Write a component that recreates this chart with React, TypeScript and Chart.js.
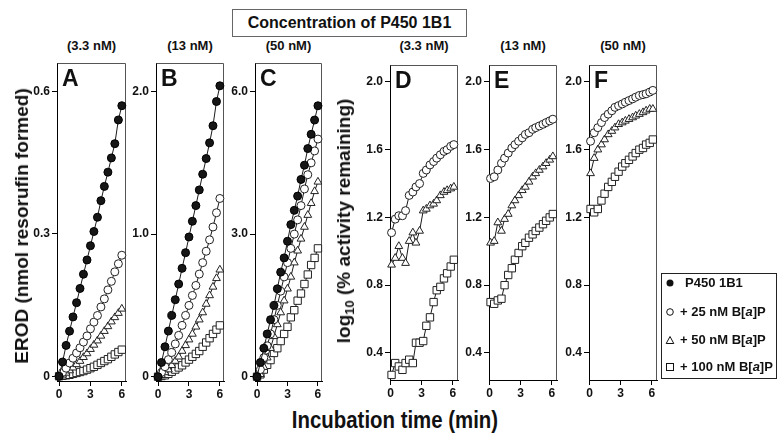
import React, { useEffect, useRef } from "react";
import { Chart, registerables } from "chart.js";
Chart.register(...registerables);

// ---------- data ----------
const TIME_ABS = [0, 0.33, 0.67, 1, 1.33, 1.67, 2, 2.33, 2.67, 3, 3.33, 3.67, 4, 4.33, 4.67, 5, 5.33, 5.67, 6];
const TIME_LOG = [0.1, 0.45, 0.8, 1.15, 1.45, 1.8, 2.15, 2.45, 2.8, 3.15, 3.45, 3.8, 4.15, 4.45, 4.8, 5.15, 5.45, 5.8, 6.1];

const X_TICKS = [0, 3, 6];
const Y_TICKS_A = [0, 0.3, 0.6];
const Y_TICKS_B = [0, 1, 2];
const Y_TICKS_C = [0, 3, 6];
const Y_TICKS_LOG = [0.4, 0.8, 1.2, 1.6, 2.0];

const PANEL_LETTERS = ["A", "B", "C", "D", "E", "F"];
const CONC_LABELS = ["(3.3 nM)", "(13 nM)", "(50 nM)", "(3.3 nM)", "(13 nM)", "(50 nM)"];
const LEGEND_LABELS = ["P450 1B1", "+ 25 nM B[a]P", "+ 50 nM B[a]P", "+ 100 nM B[a]P"];

// Panel A (3.3 nM) EROD
const A_P450 = [0, 0.03, 0.065, 0.095, 0.125, 0.155, 0.185, 0.215, 0.245, 0.275, 0.305, 0.335, 0.37, 0.4, 0.43, 0.46, 0.49, 0.54, 0.57];
const A_BAP25 = [0, 0.008, 0.017, 0.028, 0.038, 0.049, 0.06, 0.072, 0.085, 0.1, 0.114, 0.128, 0.146, 0.163, 0.182, 0.2, 0.22, 0.237, 0.255];
const A_BAP50 = [0, 0.003, 0.007, 0.012, 0.018, 0.025, 0.032, 0.04, 0.048, 0.057, 0.066, 0.075, 0.085, 0.095, 0.105, 0.115, 0.124, 0.133, 0.142];
const A_BAP100 = [0, 0.001, 0.002, 0.003, 0.005, 0.007, 0.009, 0.011, 0.014, 0.017, 0.02, 0.024, 0.028, 0.032, 0.036, 0.041, 0.046, 0.051, 0.056];

// Panel B (13 nM) EROD
const B_P450 = [0, 0.1, 0.21, 0.32, 0.43, 0.54, 0.65, 0.76, 0.87, 0.98, 1.09, 1.2, 1.31, 1.42, 1.53, 1.64, 1.76, 1.93, 2.04];
const B_BAP25 = [0, 0.03, 0.07, 0.12, 0.17, 0.23, 0.29, 0.36, 0.43, 0.5, 0.57, 0.64, 0.72, 0.8, 0.88, 0.96, 1.05, 1.15, 1.25];
const B_BAP50 = [0, 0.01, 0.03, 0.05, 0.08, 0.11, 0.14, 0.18, 0.22, 0.26, 0.3, 0.35, 0.4, 0.45, 0.51, 0.57, 0.63, 0.69, 0.75];
const B_BAP100 = [0, 0.005, 0.01, 0.02, 0.035, 0.05, 0.065, 0.08, 0.1, 0.12, 0.14, 0.16, 0.18, 0.21, 0.24, 0.27, 0.3, 0.33, 0.36];

// Panel C (50 nM) EROD
const C_P450 = [0, 0.3, 0.6, 0.9, 1.2, 1.5, 1.85, 2.2, 2.5, 2.85, 3.2, 3.5, 3.8, 4.15, 4.45, 4.8, 5.1, 5.4, 5.7];
const C_BAP25 = [0, 0.15, 0.4, 0.65, 0.9, 1.2, 1.5, 1.8, 2.1, 2.4, 2.7, 3.0, 3.3, 3.6, 3.95, 4.25, 4.5, 4.75, 5.0];
const C_BAP50 = [0, 0.05, 0.2, 0.4, 0.6, 0.85, 1.1, 1.35, 1.6, 1.85, 2.1, 2.4, 2.65, 2.9, 3.15, 3.4, 3.65, 3.9, 4.1];
const C_BAP100 = [0, 0.05, 0.15, 0.25, 0.35, 0.5, 0.6, 0.75, 0.9, 1.05, 1.25, 1.4, 1.6, 1.75, 1.95, 2.15, 2.35, 2.5, 2.7];

// Panel D (3.3 nM) log10 % activity remaining
const D_BAP25 = [1.11, 1.19, 1.21, 1.21, 1.24, 1.33, 1.35, 1.38, 1.4, 1.46, 1.48, 1.51, 1.53, 1.55, 1.57, 1.59, 1.6, 1.62, 1.63];
const D_BAP50 = [0.92, 0.96, 1.03, 0.96, 0.93, 1.06, 1.11, 1.05, 1.12, 1.24, 1.25, 1.27, 1.28, 1.3, 1.33, 1.35, 1.36, 1.37, 1.38];
const D_BAP100 = [0.27, 0.34, 0.32, 0.3, 0.34, 0.36, 0.34, 0.46, 0.46, 0.47, 0.56, 0.61, 0.7, 0.77, 0.79, 0.84, 0.87, 0.91, 0.95];

// Panel E (13 nM)
const E_BAP25 = [1.43, 1.44, 1.48, 1.52, 1.55, 1.58, 1.61, 1.63, 1.65, 1.67, 1.69, 1.7, 1.72, 1.73, 1.74, 1.75, 1.76, 1.77, 1.78];
const E_BAP50 = [1.05, 1.06, 1.17, 1.12, 1.19, 1.22, 1.27, 1.3, 1.33, 1.36, 1.38, 1.41, 1.44, 1.46, 1.48, 1.5, 1.52, 1.54, 1.56];
const E_BAP100 = [0.7, 0.69, 0.71, 0.72, 0.8, 0.86, 0.9, 0.95, 0.99, 1.03, 1.05, 1.08, 1.1, 1.12, 1.14, 1.16, 1.18, 1.2, 1.22];

// Panel F (50 nM)
const F_BAP25 = [1.65, 1.7, 1.73, 1.76, 1.79, 1.81, 1.83, 1.85, 1.86, 1.87, 1.88, 1.89, 1.9, 1.91, 1.92, 1.925, 1.93, 1.94, 1.95];
const F_BAP50 = [1.46, 1.55, 1.6, 1.63, 1.66, 1.69, 1.71, 1.73, 1.75, 1.76, 1.77, 1.78, 1.79, 1.8, 1.81, 1.82, 1.83, 1.84, 1.84];
const F_BAP100 = [1.25, 1.23, 1.25, 1.3, 1.34, 1.38, 1.41, 1.44, 1.47, 1.5, 1.52, 1.54, 1.56, 1.58, 1.6, 1.61, 1.63, 1.64, 1.66];

// ---------- styling / layout ----------
type Kind = "p450" | "b25" | "b50" | "b100";
type Series = { kind: Kind; data: number[] };
type PanelCfg = {
  box: { l: number; r: number; t: number; b: number };
  xMin: number; xMax: number; yMin: number; yMax: number;
  yTicks: number[]; time: number[]; series: Series[];
};

const FONT = "'Liberation Sans', Arial, Helvetica, sans-serif";
const PAD_L = 45, PAD_R = 10, PAD_T = 10, PAD_B = 20;

const PANELS: PanelCfg[] = [
  { box: { l: 57, r: 126, t: 63, b: 381 }, xMin: -0.2, xMax: 6.4, yMin: -0.01, yMax: 0.66, yTicks: Y_TICKS_A, time: TIME_ABS,
    series: [{ kind: "p450", data: A_P450 }, { kind: "b25", data: A_BAP25 }, { kind: "b50", data: A_BAP50 }, { kind: "b100", data: A_BAP100 }] },
  { box: { l: 156, r: 224, t: 63, b: 381 }, xMin: -0.2, xMax: 6.4, yMin: -0.03, yMax: 2.2, yTicks: Y_TICKS_B, time: TIME_ABS,
    series: [{ kind: "p450", data: B_P450 }, { kind: "b25", data: B_BAP25 }, { kind: "b50", data: B_BAP50 }, { kind: "b100", data: B_BAP100 }] },
  { box: { l: 255, r: 322, t: 63, b: 381 }, xMin: -0.2, xMax: 6.4, yMin: -0.09, yMax: 6.6, yTicks: Y_TICKS_C, time: TIME_ABS,
    series: [{ kind: "p450", data: C_P450 }, { kind: "b25", data: C_BAP25 }, { kind: "b50", data: C_BAP50 }, { kind: "b100", data: C_BAP100 }] },
  { box: { l: 390, r: 458, t: 65, b: 380 }, xMin: -0.05, xMax: 6.5, yMin: 0.24, yMax: 2.1, yTicks: Y_TICKS_LOG, time: TIME_LOG,
    series: [{ kind: "b25", data: D_BAP25 }, { kind: "b50", data: D_BAP50 }, { kind: "b100", data: D_BAP100 }] },
  { box: { l: 489, r: 557, t: 65, b: 380 }, xMin: -0.05, xMax: 6.5, yMin: 0.24, yMax: 2.1, yTicks: Y_TICKS_LOG, time: TIME_LOG,
    series: [{ kind: "b25", data: E_BAP25 }, { kind: "b50", data: E_BAP50 }, { kind: "b100", data: E_BAP100 }] },
  { box: { l: 589, r: 657, t: 65, b: 380 }, xMin: -0.05, xMax: 6.5, yMin: 0.24, yMax: 2.1, yTicks: Y_TICKS_LOG, time: TIME_LOG,
    series: [{ kind: "b25", data: F_BAP25 }, { kind: "b50", data: F_BAP50 }, { kind: "b100", data: F_BAP100 }] },
];

const STYLE: Record<Kind, any> = {
  p450: { pointStyle: "circle", pointRadius: 4, pointBackgroundColor: "#161616", pointBorderColor: "#000" },
  b25: { pointStyle: "circle", pointRadius: 4, pointBackgroundColor: "#fff", pointBorderColor: "#222" },
  b50: { pointStyle: "triangle", pointRadius: 4.5, pointBackgroundColor: "#fff", pointBorderColor: "#222" },
  b100: { pointStyle: "rect", pointRadius: 5.2, pointBackgroundColor: "#fff", pointBorderColor: "#222" },
};

const framePlugin = {
  id: "frame",
  beforeDatasetsDraw(chart: any) {
    const { ctx, chartArea } = chart;
    const { left, top, right, bottom } = chartArea;
    ctx.save();
    ctx.strokeStyle = "#555";
    ctx.lineWidth = 1;
    ctx.beginPath();
    ctx.moveTo(Math.round(left) + 0.5, Math.round(top) + 0.5);
    ctx.lineTo(Math.round(right) - 0.5, Math.round(top) + 0.5);
    ctx.lineTo(Math.round(right) - 0.5, Math.round(bottom));
    ctx.stroke();
    ctx.restore();
  },
};

const fmt = (v: number) => (v === 0 ? "0" : v.toFixed(1));

function ChartPanel({ p }: { p: PanelCfg }) {
  const ref = useRef<HTMLCanvasElement | null>(null);
  const W = p.box.r - p.box.l + PAD_L + PAD_R;
  const H = p.box.b - p.box.t + PAD_T + PAD_B;
  useEffect(() => {
    if (!ref.current) return;
    const tickFont = { family: FONT, weight: "bold" as const, size: 12 };
    const grid = { display: true, drawOnChartArea: false, drawTicks: true, tickLength: 5, color: "#000", lineWidth: 1 };
    const border = { display: true, color: "#000", width: 1 };
    const chart = new Chart(ref.current, {
      type: "line",
      data: {
        datasets: p.series.map((s) => ({
          data: p.time.map((t, i) => ({ x: t, y: s.data[i] })),
          showLine: true,
          borderColor: "#1a1a1a",
          borderWidth: 1,
          pointBorderWidth: 1,
          tension: 0,
          fill: false,
          clip: false as any,
          ...STYLE[s.kind],
        })),
      },
      options: {
        responsive: false,
        maintainAspectRatio: false,
        animation: false,
        events: [],
        layout: { padding: { left: 0, top: PAD_T, right: PAD_R, bottom: 0 } },
        plugins: { legend: { display: false }, tooltip: { enabled: false }, title: { display: false } },
        scales: {
          x: {
            type: "linear",
            min: p.xMin,
            max: p.xMax,
            afterBuildTicks: (a: any) => { a.ticks = X_TICKS.map((v) => ({ value: v })); },
            afterFit: (s: any) => { s.height = PAD_B; },
            ticks: { font: tickFont, color: "#111", padding: 1, maxRotation: 0, autoSkip: false, callback: (v: any) => String(v) },
            grid,
            border,
          },
          y: {
            type: "linear",
            min: p.yMin,
            max: p.yMax,
            afterBuildTicks: (a: any) => { a.ticks = p.yTicks.map((v) => ({ value: v })); },
            afterFit: (s: any) => { s.width = PAD_L; },
            ticks: { font: tickFont, color: "#111", padding: 2, autoSkip: false, callback: (v: any) => fmt(Number(v)) },
            grid,
            border,
          },
        },
      },
      plugins: [framePlugin],
    } as any);
    return () => chart.destroy();
  }, []);
  return (
    <canvas
      ref={ref}
      width={W}
      height={H}
      style={{ position: "absolute", left: p.box.l - PAD_L, top: p.box.t - PAD_T, width: W, height: H }}
    />
  );
}

function LegendMarker({ kind }: { kind: Kind }) {
  const s = "#111";
  return (
    <svg width={10} height={10} style={{ display: "block" }}>
      {kind === "p450" && <circle cx={5} cy={5} r={3.5} fill="#111" />}
      {kind === "b25" && <circle cx={5} cy={5} r={3.3} fill="#fff" stroke={s} strokeWidth={1} />}
      {kind === "b50" && <polygon points="5,1.5 8.8,8.5 1.2,8.5" fill="#fff" stroke={s} strokeWidth={1} />}
      {kind === "b100" && <rect x={1.5} y={1.5} width={7} height={7} fill="#fff" stroke={s} strokeWidth={1} />}
    </svg>
  );
}

function renderLabel(text: string) {
  const parts = text.split("[a]");
  if (parts.length === 1) return text;
  return (
    <>
      {parts[0]}[<i>a</i>]{parts[1]}
    </>
  );
}

export default function App() {
  const kinds: Kind[] = ["p450", "b25", "b50", "b100"];
  const legendY = [283, 312, 340, 367];
  return (
    <div
      style={{
        position: "absolute",
        left: 0,
        top: 0,
        width: 782,
        height: 440,
        background: "#fff",
        fontFamily: FONT,
        color: "#111",
        overflow: "hidden",
      }}
    >
      {/* title box */}
      <div
        style={{
          position: "absolute",
          left: 232,
          top: 9,
          width: 235,
          height: 28,
          border: "1px solid #666",
          boxSizing: "border-box",
          textAlign: "center",
          lineHeight: "26px",
          fontSize: 16,
          fontWeight: "bold",
        }}
      >
        Concentration of P450 1B1
      </div>

      {PANELS.map((p, i) => (
        <ChartPanel key={i} p={p} />
      ))}

      {PANELS.map((p, i) => (
        <div
          key={"c" + i}
          style={{
            position: "absolute",
            left: (p.box.l + p.box.r) / 2 - 40,
            width: 80,
            top: 39,
            textAlign: "center",
            fontSize: 13,
            lineHeight: "13px",
            fontWeight: "bold",
            whiteSpace: "nowrap",
          }}
        >
          {CONC_LABELS[i]}
        </div>
      ))}

      {PANELS.map((p, i) => (
        <div
          key={"l" + i}
          style={{
            position: "absolute",
            left: p.box.l + 5,
            top: p.box.t + 4,
            fontSize: 23,
            lineHeight: "23px",
            fontWeight: "bold",
          }}
        >
          {PANEL_LETTERS[i]}
        </div>
      ))}

      {/* left y title */}
      <div
        style={{
          position: "absolute",
          left: 22,
          top: 226,
          transform: "translate(-50%, -50%) rotate(-90deg)",
          whiteSpace: "nowrap",
          fontSize: 19,
          fontWeight: "bold",
        }}
      >
        EROD (nmol resorufin formed)
      </div>

      {/* right y title */}
      <div
        style={{
          position: "absolute",
          left: 345,
          top: 221,
          transform: "translate(-50%, -50%) rotate(-90deg)",
          whiteSpace: "nowrap",
          fontSize: 19,
          fontWeight: "bold",
        }}
      >
        log<sub style={{ fontSize: 13, verticalAlign: "-4px" }}>10</sub> (% activity remaining)
      </div>

      {/* x title */}
      <div
        style={{
          position: "absolute",
          left: 395,
          top: 420,
          transform: "translate(-50%, -50%) scaleX(0.85)",
          whiteSpace: "nowrap",
          fontSize: 24,
          fontWeight: "bold",
        }}
      >
        Incubation time (min)
      </div>

      {/* legend */}
      <div
        style={{
          position: "absolute",
          left: 661,
          top: 273,
          width: 116,
          height: 106,
          border: "1px solid #222",
          boxSizing: "border-box",
        }}
      />
      {LEGEND_LABELS.map((lab, i) => (
        <React.Fragment key={"lg" + i}>
          <div style={{ position: "absolute", left: 665, top: legendY[i] - 5 }}>
            <LegendMarker kind={kinds[i]} />
          </div>
          <div
            style={{
              position: "absolute",
              left: i === 0 ? 685 : 680,
              top: legendY[i] - 8,
              fontSize: 13,
              lineHeight: "16px",
              fontWeight: "bold",
              whiteSpace: "nowrap",
            }}
          >
            {renderLabel(lab)}
          </div>
        </React.Fragment>
      ))}
    </div>
  );
}
